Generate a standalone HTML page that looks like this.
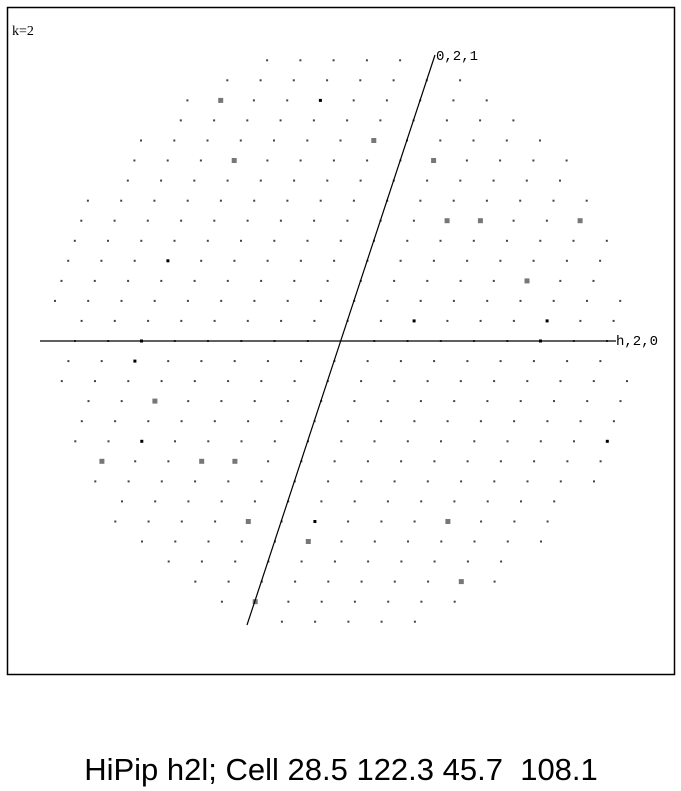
<!DOCTYPE html>
<html><head><meta charset="utf-8"><style>
body{margin:0;background:#fff;width:681px;height:791px;overflow:hidden}
</style></head><body>
<svg width="681" height="791" viewBox="0 0 681 791" style="position:absolute;left:0;top:0">
<rect x="7.5" y="7.5" width="667" height="667" fill="#fff" stroke="#000" stroke-width="1.5"/>
<text x="12" y="35" font-family="Liberation Serif, serif" font-size="14">k=2</text>
<g id="spots"></g>
<line x1="40" y1="341" x2="616" y2="341" stroke="#000" stroke-width="1.2"/>
<line x1="247" y1="625" x2="435" y2="55" stroke="#000" stroke-width="1.2"/>
<text x="616" y="345" font-family="Liberation Mono, monospace" font-size="14">h,2,0</text>
<text x="436" y="60" font-family="Liberation Mono, monospace" font-size="14">0,2,1</text>
<text x="341" y="780" text-anchor="middle" font-family="Liberation Sans, sans-serif" font-size="31" style="white-space:pre" xml:space="preserve">HiPip h2l; Cell 28.5 122.3 45.7  108.1</text>
</svg>
<script>
const strongH=[-6,-5,-1,1,2,3,6,5,-5,-6,-3,-2,-1,5,1,0,6];
const strongL=[12,9,10,9,6,6,6,3,-3,-6,-6,-6,-9,-9,-10,-13,-12];
const medH=[-3,3,-6,6,2,6,-6,-6,-5,9,-3,1];
const medL=[12,12,0,0,1,1,4,-1,-5,-5,-12,-9];
const limitRadius=292;
const cx=341,cy=341,ax=33.25,cxs=6.6,cys=20.05;
function px(h,l){return cx+ax*h+cxs*l;}
function py(h,l){return cy-cys*l;}
const g=document.getElementById('spots');
const NS='http://www.w3.org/2000/svg';
function key(h,l){return h+','+l;}
const strong=new Set(strongH.map((h,i)=>key(h,strongL[i])));
const med=new Set(medH.map((h,i)=>key(h,medL[i])));
for(let l=-16;l<=16;l++){for(let h=-12;h<=12;h++){
 const x=px(h,l),y=py(h,l);
 if(Math.hypot(x-cx,y-cy)>limitRadius)continue;
 if(h===0&&l===0)continue;
 const r=document.createElementNS(NS,'rect');
 const k=key(h,l);
 let s=2,f='#444';
 if(strong.has(k)){s=5;f='#777';}else if(med.has(k)){s=3;f='#000';}
 r.setAttribute('x',(x-s/2).toFixed(1));r.setAttribute('y',(y-s/2).toFixed(1));
 r.setAttribute('width',s);r.setAttribute('height',s);r.setAttribute('fill',f);
 
 
 g.appendChild(r);
}}
</script>
</body></html>
